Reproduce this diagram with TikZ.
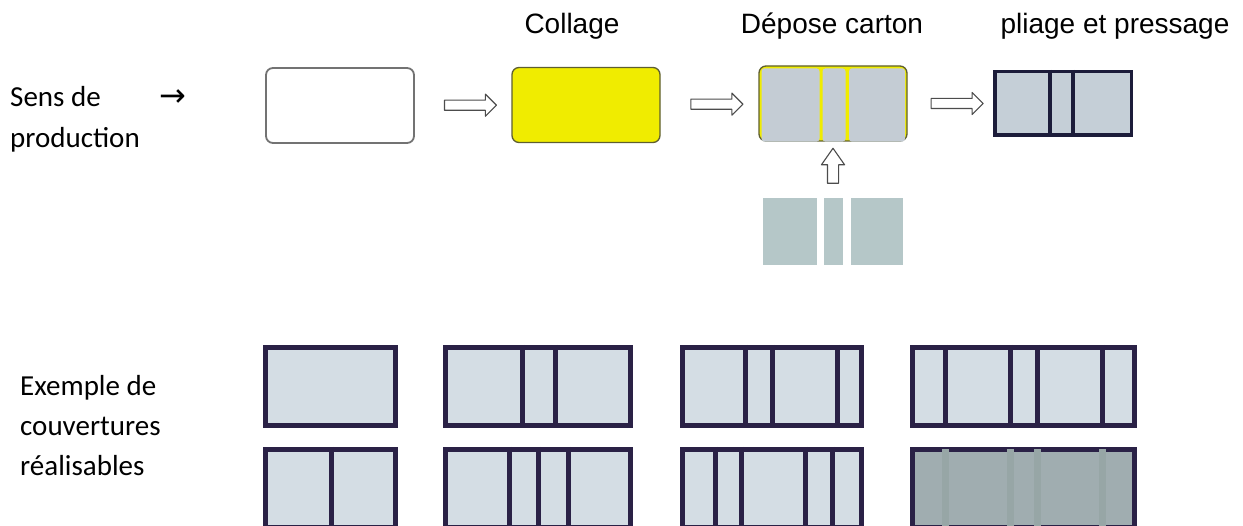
\documentclass[tikz,border=0pt]{standalone}
\usepackage{fontspec}
\setmainfont{Carlito}
\newfontfamily\arialfont{Liberation Sans}
\newfontfamily\symbolfont{DejaVu Sans}
\usetikzlibrary{shapes.arrows}

\definecolor{coverblue}{HTML}{D4DDE4}
\definecolor{coverline}{HTML}{2A2146}
\definecolor{panelblue}{HTML}{C4CCD4}
\definecolor{cartonblue}{HTML}{B5C7C8}
\definecolor{glueyellow}{HTML}{F0EC00}
\definecolor{gluerim}{HTML}{5E5E30}
\definecolor{pressline}{HTML}{1C1C3A}
\definecolor{pressblue}{HTML}{C5CFD7}
\definecolor{darkcover}{HTML}{A0ADB0}
\definecolor{darkstrip}{HTML}{97A6A6}

\begin{document}
\begin{tikzpicture}[x=1pt, y=-1pt, line join=round, font=\fontsize{29}{41}\selectfont,
	stage/.style={minimum width=148pt, minimum height=75pt, rounded corners=7pt, inner sep=0pt},
	flow/.style={single arrow, draw=black!70, fill=white, line width=1.1pt, minimum height=52pt, inner xsep=0pt, inner ysep=4.5pt, single arrow head extend=6pt},
	cover/.style={draw=coverline, fill=coverblue, line width=5pt, line join=miter, minimum height=78pt, inner sep=0pt},
	fold/.style={coverline, line width=5pt},
	title/.style={font=\arialfont\fontsize{28}{34}\selectfont, anchor=base},
	side/.style={align=left, anchor=north west, inner sep=0pt}]
	\useasboundingbox (0,0) rectangle (1243,526);
	\clip (0,0) rectangle (1243,526);

	\node[side] (sens) at (10,86) {Sens de\hspace{59pt}{\symbolfont\fontsize{32}{41}\selectfont →}\\production};
	\node[side, font=\fontsize{29}{40}\selectfont] (exemple) at (20,375) {Exemple de\\couvertures\\réalisables};

	\node[title] (collage) at (572,34) {Collage};
	\node[title] (depot) at (832,34) {Dépose carton};
	\node[title] (pliage) at (1115,34) {pliage et pressage};

	\node[stage, draw=black!55, fill=white, line width=1.8pt] (blank) at (340,105.5) {};
	\node[stage, draw=gluerim, fill=glueyellow, line width=1.3pt] (glue) at (586,105) {};
	\node[stage, draw=gluerim, fill=glueyellow, line width=1.3pt] (depose) at (833,103.5) {};
	\foreach \a/\b in {761.5/819.5, 822.5/845.5, 849/905}
		\fill[panelblue, rounded corners=3pt] (depose.north -| \a,0) ++(0,3) rectangle (depose.south -| \b,0) ++(0,-3);

	\node[draw=pressline, fill=pressblue, line width=3.5pt, line join=miter, minimum width=136.5pt, minimum height=63.5pt, inner sep=0pt] (press) at (1063,103.5) {};
	\foreach \d in {1050,1073}
		\draw[pressline, line width=3.5pt] (press.north -| \d,0) -- (press.south -| \d,0);

	\node[minimum width=140pt, minimum height=67pt, inner sep=0pt] (carton) at (833,231.5) {};
	\foreach \a/\b in {763/817, 824/843, 851/903}
		\fill[cartonblue] (carton.north -| \a,0) rectangle (carton.south -| \b,0);

	\path (blank.east) -- node[flow, pos=.55] (a1) {} (glue.west);
	\path (glue.east) -- node[flow, pos=.55] (a2) {} (depose.west);
	\path (depose.east) -- node[flow, pos=.55] (a3) {} (press.west);
	\path (carton.north) -- node[flow, shape border rotate=90, minimum height=35pt, inner xsep=5pt, inner ysep=0pt, single arrow tip angle=70] (a4) {} (depose.south);

	\foreach \name/\cx/\cy/\w in {c1a/330.5/386.5/130, c1b/538/386.5/185, c1c/772/386.5/179, c1d/1023.5/386.5/222, c2a/330.5/488.5/130, c2b/538/488.5/185, c2c/772/488.5/179}
		\node[cover, minimum width=\w] (\name) at (\cx,\cy) {};
	\node[cover, fill=darkcover, minimum width=222] (c2d) at (1023.5,488.5) {};
	\foreach \d in {945,1010,1037,1102}
		\draw[darkstrip, line width=7pt, shorten <=2.5pt, shorten >=2.5pt] (c2d.north -| \d,0) -- (c2d.south -| \d,0);
	\foreach \name/\d in {c1b/522, c1b/555, c1c/745, c1c/772, c1c/837, c1d/945, c1d/1010, c1d/1037, c1d/1102, c2a/331, c2b/509, c2b/538, c2b/568, c2c/715, c2c/741, c2c/805, c2c/832}
		\draw[fold] (\name.north -| \d,0) -- (\name.south -| \d,0);
\end{tikzpicture}
\end{document}
